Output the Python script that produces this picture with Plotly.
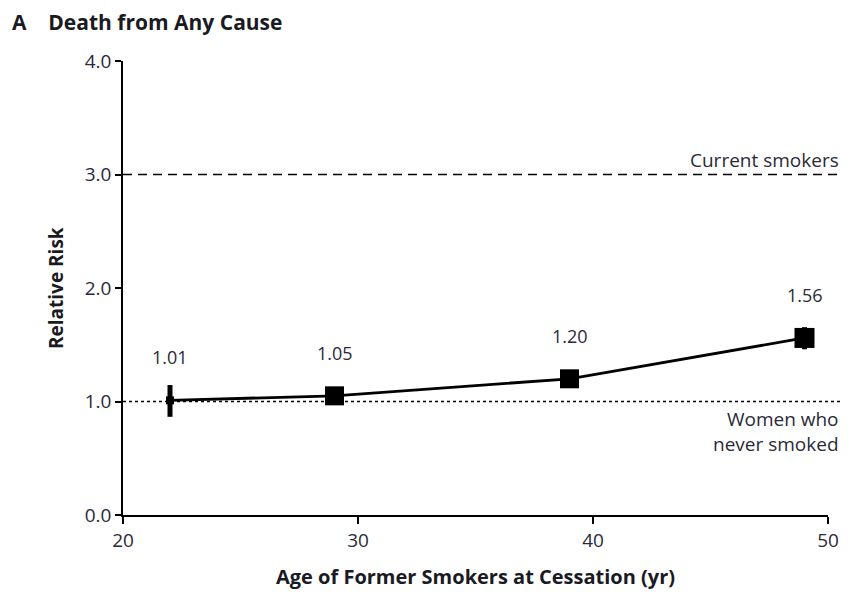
import plotly.graph_objects as go

# Data
ages = [22, 29, 39, 49]
relative_risk = [1.01, 1.05, 1.20, 1.56]
ci_low = [0.865, 1.00, 1.14, 1.46]
ci_high = [1.145, 1.10, 1.26, 1.655]
rr_labels = ["1.01", "1.05", "1.20", "1.56"]
current_smokers_rr = 3.0
never_smoked_rr = 1.0
x_ticks = [20, 30, 40, 50]
y_ticks = [0.0, 1.0, 2.0, 3.0, 4.0]

marker_sizes = [8, 19, 19, 20]

FONT = "Open Sans"
TXT = "#2a2a38"
TITLE_C = "#1a1a22"

# page body has an 8px margin: the figure is drawn smaller and shifted
W, H = 843, 588

fig = go.Figure()

fig.add_trace(go.Scatter(
    x=ages, y=relative_risk,
    mode="lines+markers",
    line=dict(color="black", width=2.8),
    marker=dict(symbol="square", size=marker_sizes, color="black", opacity=1,
                line=dict(width=0)),
    error_y=dict(type="data", symmetric=False,
                 array=[h - v for h, v in zip(ci_high, relative_risk)],
                 arrayminus=[v - l for l, v in zip(ci_low, relative_risk)],
                 color="black", thickness=5, width=0),
    showlegend=False, hoverinfo="skip",
))

# reference lines
fig.add_shape(type="line", xref="paper", yref="y", x0=0, x1=1.031,
              y0=current_smokers_rr, y1=current_smokers_rr,
              line=dict(color="black", width=1.3, dash="9px,6px"))
fig.add_shape(type="line", xref="paper", yref="y", x0=0, x1=1.031,
              y0=never_smoked_rr, y1=never_smoked_rr,
              line=dict(color="black", width=1.3, dash="3px,3px"))

# value labels
for a, v, t in zip(ages, relative_risk, rr_labels):
    fig.add_annotation(x=a, y=v, text=t, showarrow=False, yshift=43,
                       font=dict(family=FONT, size=18, color=TXT))

fig.add_annotation(xref="paper", x=1.018, y=current_smokers_rr, text="Current smokers",
                   showarrow=False, xanchor="right", yanchor="bottom", yshift=0,
                   font=dict(family=FONT, size=19, color=TXT))
fig.add_annotation(xref="paper", x=1.018, y=never_smoked_rr, text="Women who<br>never smoked",
                   showarrow=False, xanchor="right", yanchor="top", yshift=-2, align="right",
                   font=dict(family=FONT, size=19, color=TXT))

# axis titles
fig.add_annotation(xref="paper", yref="y", x=-0.1163, y=2.0, text="<b>Relative Risk</b>",
                   textangle=-90, showarrow=False,
                   font=dict(family=FONT, size=19, color=TITLE_C))
fig.add_annotation(xref="paper", yref="paper", x=0.5, y=-0.136,
                   text="<b>Age of Former Smokers at Cessation (yr)</b>",
                   showarrow=False, yanchor="middle",
                   font=dict(family=FONT, size=20, color=TITLE_C))

fig.update_layout(
    width=W, height=H,
    margin=dict(l=115, r=23, t=53, b=H - 507),
    paper_bgcolor="white", plot_bgcolor="white",
    title=dict(text="<b>A&nbsp;&nbsp;&nbsp;&nbsp;Death from Any Cause</b>", x=4 / W, xanchor="left",
               xref="container", y=1 - 15 / H, yanchor="middle", yref="container",
               font=dict(family=FONT, size=21, color=TITLE_C)),
    xaxis=dict(range=[20, 50], tickvals=x_ticks, ticktext=[str(v) for v in x_ticks],
               showgrid=False, zeroline=False, showline=True, linecolor="black", linewidth=1.5,
               ticks="outside", ticklen=7, tickwidth=1.5, tickcolor="black",
               tickfont=dict(family=FONT, size=19, color=TXT)),
    yaxis=dict(range=[0, 4], tickvals=y_ticks, ticktext=[f"{v:.1f}" for v in y_ticks],
               showgrid=False, zeroline=False, showline=True, linecolor="black", linewidth=1.5,
               ticks="outside", ticklen=6, tickwidth=1.5, tickcolor="black",
               tickfont=dict(family=FONT, size=19, color=TXT)),
)

fig.write_html("out.html")
